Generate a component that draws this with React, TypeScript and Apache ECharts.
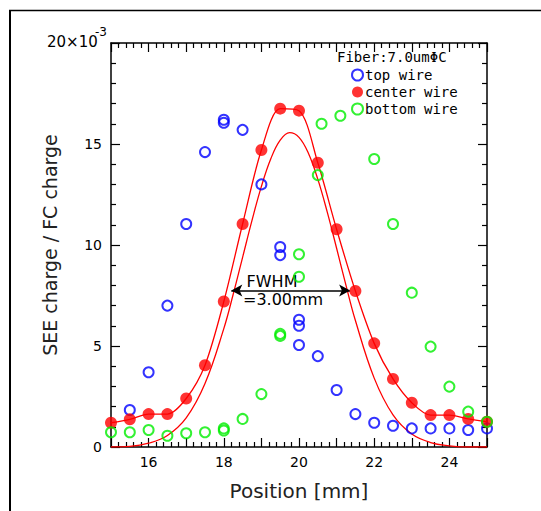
import React, { useEffect, useRef } from 'react';
import * as echarts from 'echarts';

// Scatter data: [position mm, SEE/FC charge (x1e-3)]
const topWire: number[][] = [
  [15.5, 1.83], [16, 3.7], [16.5, 7.0], [17, 11.04], [17.5, 14.6], [18, 16.2], [18, 16.05],
  [18.5, 15.7], [19, 13.0], [19.5, 9.9], [19.5, 9.5], [20, 6.3], [20, 6.0], [20, 5.05],
  [20.5, 4.5], [21, 2.82], [21.5, 1.63], [22, 1.2], [22.5, 1.05], [23, 0.92], [23.5, 0.92],
  [24, 0.92], [24.5, 0.84], [25, 0.92],
];
const centerWire: number[][] = [
  [15, 1.2], [15.5, 1.37], [16, 1.63], [16.5, 1.63], [17, 2.4], [17.5, 4.05], [18, 7.2],
  [18.5, 11.04], [19, 14.7], [19.5, 16.75], [20, 16.65], [20.5, 14.07], [21, 10.78],
  [21.5, 7.72], [22, 5.13], [22.5, 3.37], [23, 2.19], [23.5, 1.58], [24, 1.58], [24.5, 1.39],
  [25, 1.25],
];
const bottomWire: number[][] = [
  [15, 0.73], [15.5, 0.73], [16, 0.84], [16.5, 0.56], [17, 0.68], [17.5, 0.73], [18, 0.92],
  [18, 0.82], [18.5, 1.39], [19, 2.62], [19.5, 5.6], [19.5, 5.5], [20, 9.54], [20, 8.43],
  [20.5, 13.46], [20.6, 16.0], [21.1, 16.4], [22, 14.26], [22.5, 11.04], [23, 7.64],
  [23.5, 4.97], [24, 2.99], [24.5, 1.75], [25, 1.25],
];
// Fitted peak curve (no baseline)
const fitCurve: number[][] = [
  [15, 0], [15.5, 0.03], [16, 0.19], [16.5, 0.57], [17, 1.44], [17.5, 3.14], [18, 5.86],
  [18.25, 7.56], [18.5, 9.39], [18.75, 11.22], [19, 12.9], [19.25, 14.27], [19.5, 15.19],
  [19.75, 15.56], [20, 15.33], [20.25, 14.54], [20.5, 13.26], [20.75, 11.64], [21, 9.84],
  [21.25, 8.0], [21.5, 6.26], [22, 3.41], [22.5, 1.59], [23, 0.64], [23.5, 0.22], [24, 0.06],
  [24.5, 0], [25, 0],
];
const fwhmLeft = 18.2;
const fwhmRight = 21.36;
const fwhmLevel = 7.75;

const xLabels = [16, 18, 20, 22, 24];
const yLabels = [0, 5, 10, 15];

export default function App() {
  const ref = useRef<HTMLDivElement>(null);
  useEffect(() => {
    const chart = echarts.init(ref.current!, null, { renderer: 'svg' });
    const black = '#000';
    const axisLine = { show: true, onZero: false, lineStyle: { color: black, width: 1.5 } };
    const axisTick = { show: true, inside: true, length: 9, lineStyle: { color: black, width: 1.2 } };
    const minorTick = { show: true, splitNumber: 5, length: 5, lineStyle: { color: black, width: 1.2 } };
    const tickFont = { fontFamily: 'DejaVu Sans', fontSize: 14, color: black };
    const hollow = (c: string) => ({ color: 'transparent', borderColor: c, borderWidth: 2 });

    chart.setOption({
      animation: false,
      backgroundColor: '#fff',
      title: {
        text: 'Fiber:7.0umΦC',
        left: 337,
        top: 50,
        padding: 0,
        textStyle: { fontFamily: 'DejaVu Sans Mono', fontSize: 14, fontWeight: 'normal', color: black },
      },
      legend: {
        data: ['top wire', 'center wire', 'bottom wire'],
        orient: 'vertical',
        left: 351,
        top: 68,
        padding: 0,
        itemWidth: 11,
        itemHeight: 11,
        itemGap: 3,
        selectedMode: false,
        textStyle: { fontFamily: 'DejaVu Sans Mono', fontSize: 14, color: black, padding: [0, 0, 0, -3] },
      },
      grid: { left: 111, right: 54, top: 43, bottom: 64, containLabel: false },
      xAxis: [
        {
          type: 'value', min: 15, max: 25, interval: 1, position: 'bottom',
          axisLine, axisTick, minorTick,
          splitLine: { show: false }, minorSplitLine: { show: false },
          axisLabel: {
            margin: 8, ...tickFont,
            formatter: (v: number) => (xLabels.includes(v) ? String(v) : ''),
          },
          name: 'Position [mm]', nameLocation: 'middle', nameGap: 34,
          nameTextStyle: { fontFamily: 'DejaVu Sans', fontSize: 20, color: '#222' },
        },
        {
          type: 'value', min: 15, max: 25, interval: 1, position: 'top',
          axisLine, axisTick, minorTick,
          splitLine: { show: false }, axisLabel: { show: false },
        },
      ],
      yAxis: [
        {
          type: 'value', min: 0, max: 20, interval: 5, position: 'left',
          axisLine, axisTick, minorTick,
          splitLine: { show: false }, minorSplitLine: { show: false },
          axisLabel: {
            margin: 9, ...tickFont,
            formatter: (v: number) => (yLabels.includes(v) ? String(v) : ''),
          },
          name: 'SEE charge / FC charge', nameLocation: 'middle', nameGap: 52, nameRotate: 90,
          nameTextStyle: { fontFamily: 'DejaVu Sans', fontSize: 19, color: '#222' },
        },
        {
          type: 'value', min: 0, max: 20, interval: 5, position: 'right',
          axisLine, axisTick, minorTick,
          splitLine: { show: false }, axisLabel: { show: false },
        },
      ],
      graphic: [
        { type: 'line', shape: { x1: 9, y1: 10.5, x2: 541, y2: 10.5 }, style: { stroke: black, lineWidth: 1.5 } },
        { type: 'line', shape: { x1: 10, y1: 10, x2: 10, y2: 511 }, style: { stroke: black, lineWidth: 2 } },
        {
          type: 'text', x: 47, y: 42,
          style: { text: '20×10', fontFamily: 'DejaVu Sans', fontSize: 15, fill: black, verticalAlign: 'middle' },
        },
        {
          type: 'text', x: 95, y: 32,
          style: { text: '-3', fontFamily: 'DejaVu Sans', fontSize: 12, fill: black, verticalAlign: 'middle' },
        },
        {
          type: 'text', x: 272, y: 281,
          style: { text: 'FWHM', fontFamily: 'DejaVu Sans', fontSize: 16, fill: black, align: 'center', verticalAlign: 'middle' },
        },
        {
          type: 'text', x: 243, y: 299,
          style: { text: '=3.00mm', fontFamily: 'DejaVu Sans', fontSize: 16, fill: black, align: 'left', verticalAlign: 'middle' },
        },
      ],
      series: [
        {
          name: 'fit', type: 'line', data: fitCurve, smooth: 0.4, showSymbol: false, silent: true,
          lineStyle: { color: '#ff0000', width: 1.3 }, z: 3,
          markLine: {
            silent: true,
            symbol: ['arrow', 'arrow'],
            symbolSize: [9, 11],
            lineStyle: { color: black, width: 1.5, type: 'solid' },
            label: { show: false },
            data: [[{ coord: [fwhmLeft, fwhmLevel] }, { coord: [fwhmRight, fwhmLevel] }]],
          },
        },
        {
          name: 'center curve', type: 'line', data: centerWire, smooth: 0.3, showSymbol: false, silent: true,
          lineStyle: { color: '#ff0000', width: 1.3 }, z: 3,
        },
        {
          name: 'top wire', type: 'scatter', data: topWire, symbol: 'circle', symbolSize: 10,
          itemStyle: hollow('#0000ff'), z: 4,
        },
        {
          name: 'center wire', type: 'scatter', data: centerWire, symbol: 'circle', symbolSize: 12,
          itemStyle: { color: '#ff0000' }, z: 5,
        },
        {
          name: 'bottom wire', type: 'scatter', data: bottomWire, symbol: 'circle', symbolSize: 10,
          itemStyle: hollow('#00ee00'), z: 6,
        },
      ],
    });
    return () => chart.dispose();
  }, []);
  return (
    <div
      ref={ref}
      style={{ position: 'absolute', left: 0, top: 0, width: 541, height: 511, background: '#fff' }}
    />
  );
}
